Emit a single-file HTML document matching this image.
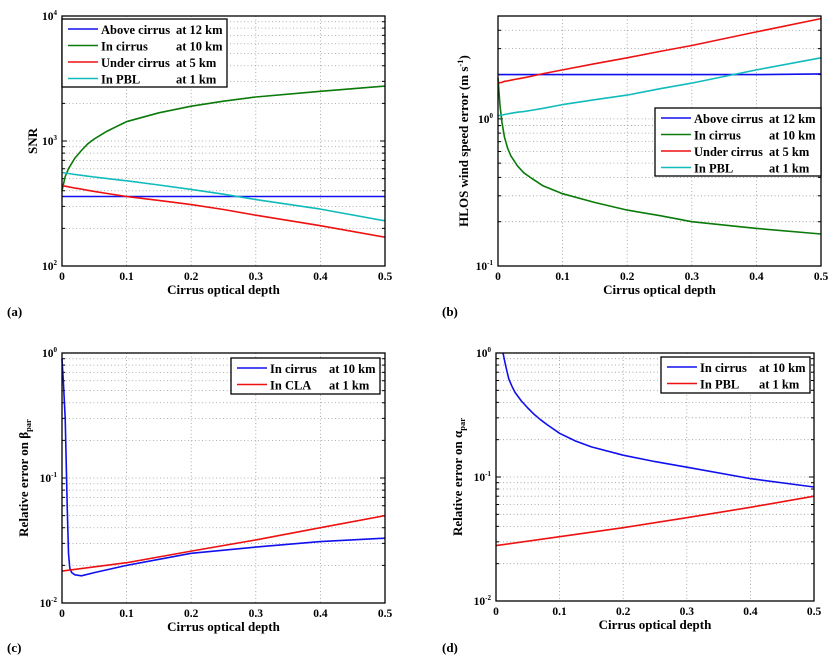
<!DOCTYPE html>
<html><head><meta charset="utf-8"><style>
html,body{margin:0;padding:0;background:#fff;}
svg{display:block;font-family:"Liberation Serif",serif;}
</style></head><body>
<svg id="fig" width="836" height="662" viewBox="0 0 836 662" xmlns="http://www.w3.org/2000/svg"></svg>
<script>
// ---- data ----
const xTicks = [0, 0.1, 0.2, 0.3, 0.4, 0.5];
const xTickLabels = ["0", "0.1", "0.2", "0.3", "0.4", "0.5"];

// Panel a: SNR
const aX = [0, 0.005, 0.01, 0.02, 0.03, 0.04, 0.05, 0.07, 0.1, 0.15, 0.2, 0.25, 0.3, 0.4, 0.5];
const aAbove = [360, 360, 360, 360, 360, 360, 360, 360, 360, 360, 360, 360, 360, 360, 360];
const aInCirrus = [400, 520, 600, 730, 840, 950, 1040, 1200, 1430, 1680, 1900, 2080, 2250, 2500, 2750];
const aUnder = [440, 435, 430, 420, 412, 403, 395, 380, 360, 335, 310, 283, 255, 210, 170];
const aPBL = [560, 555, 550, 540, 532, 523, 515, 500, 480, 445, 410, 375, 340, 285, 230];

// Panel b: HLOS wind speed error
const bX = [0, 0.003, 0.006, 0.01, 0.015, 0.02, 0.03, 0.04, 0.05, 0.07, 0.1, 0.15, 0.2, 0.25, 0.3, 0.4, 0.5];
const bAbove = [2.0, 2.0, 2.0, 2.0, 2.0, 2.0, 2.0, 2.0, 2.0, 2.0, 2.0, 2.0, 2.0, 2.0, 2.0, 2.0, 2.02];
const bInCirrus = [1.9, 1.25, 0.95, 0.75, 0.63, 0.56, 0.48, 0.43, 0.4, 0.35, 0.31, 0.27, 0.24, 0.22, 0.2, 0.18, 0.165];
const bUnder = [1.75, 1.76, 1.77, 1.8, 1.81, 1.83, 1.87, 1.9, 1.94, 2.03, 2.15, 2.37, 2.6, 2.87, 3.15, 3.9, 4.8];
const bPBL = [1.05, 1.055, 1.06, 1.07, 1.08, 1.09, 1.11, 1.12, 1.14, 1.18, 1.25, 1.35, 1.45, 1.6, 1.75, 2.15, 2.6];

// Panel c: relative error on beta_par
const cX = [0, 0.002, 0.005, 0.008, 0.01, 0.012, 0.015, 0.02, 0.03, 0.05, 0.1, 0.2, 0.3, 0.4, 0.5];
const cInCirrus = [0.9, 0.6, 0.3, 0.06, 0.025, 0.019, 0.0175, 0.0168, 0.0165, 0.0175, 0.02, 0.025, 0.028, 0.031, 0.033];
const cXr = [0, 0.1, 0.2, 0.3, 0.4, 0.5];
const cCLA = [0.018, 0.021, 0.026, 0.032, 0.04, 0.05];

// Panel d: relative error on alpha_par
const dX = [0.011, 0.015, 0.02, 0.025, 0.03, 0.04, 0.05, 0.06, 0.07, 0.08, 0.1, 0.125, 0.15, 0.2, 0.25, 0.3, 0.4, 0.5];
const dInCirrus = [1.0, 0.8, 0.62, 0.54, 0.48, 0.41, 0.36, 0.32, 0.29, 0.265, 0.225, 0.195, 0.175, 0.15, 0.133, 0.12, 0.097, 0.083];
const dXr = [0, 0.1, 0.2, 0.3, 0.4, 0.5];
const dPBL = [0.028, 0.033, 0.039, 0.047, 0.057, 0.07];

const NS = "http://www.w3.org/2000/svg";
const svg = document.getElementById('fig');
function el(tag, attrs, parent) {
  const e = document.createElementNS(NS, tag);
  for (const k in attrs) e.setAttribute(k, attrs[k]);
  (parent || svg).appendChild(e);
  return e;
}

function panel(cfg) {
  const g = el('g', {});
  
  
  const {x0, x1, y0, y1, lmin, lmax} = cfg;
  const sx = v => x0 + (v - 0) / 0.5 * (x1 - x0);
  const sy = v => y1 - (Math.log10(v) - lmin) / (lmax - lmin) * (y1 - y0);
  for (let d = Math.floor(lmin); d < Math.ceil(lmax); d++) {
    for (let m = 1; m < 10; m++) {
      const v = m * Math.pow(10, d);
      const lv = Math.log10(v);
      if (lv <= lmin + 1e-9 || lv >= lmax - 1e-9) continue;
      const y = sy(v);
      const gl = el('line', {x1: x0, x2: x1, y1: y, y2: y, stroke: '#999', 'stroke-width': 0.8, 'stroke-dasharray': '1,2.5'}, g);
      
      
      el('line', {x1: x0, x2: x0 + (m === 1 ? 5 : 3), y1: y, y2: y, stroke: '#000', 'stroke-width': 1}, g);
      el('line', {x1: x1, x2: x1 - (m === 1 ? 5 : 3), y1: y, y2: y, stroke: '#000', 'stroke-width': 1}, g);
    }
  }
  xTicks.forEach((t, i) => {
    const x = sx(t);
    if (i > 0 && i < xTicks.length - 1) {
      const gl = el('line', {x1: x, x2: x, y1: y0, y2: y1, stroke: '#999', 'stroke-width': 0.8, 'stroke-dasharray': '1,2.5'}, g);
      
      
    }
    const tl = el('text', {x: x, y: y1 + 14, 'font-size': 11.5, 'font-weight': 'bold', 'text-anchor': 'middle'}, g);
    tl.textContent = xTickLabels[i];
    
    
  });
  for (let d = Math.ceil(lmin); d <= Math.floor(lmax); d++) {
    const t = el('text', {x: x0 - 5, y: sy(Math.pow(10, d)) + 4, 'font-size': 11.5, 'font-weight': 'bold', 'text-anchor': 'end'}, g);
    
    
    t.textContent = '10';
    const sup = el('tspan', {'font-size': 7, dy: -5}, t);
    sup.textContent = String(d);
  }
  cfg.series.forEach(s => {
    const pts = s.x.map((xv, i) => sx(xv).toFixed(1) + ',' + sy(s.y[i]).toFixed(1)).join(' ');
    const p = el('polyline', {points: pts, fill: 'none', stroke: s.color, 'stroke-width': 1.6, 'stroke-linejoin': 'round'}, g);
    
    
  });
  el('rect', {x: x0, y: y0, width: x1 - x0, height: y1 - y0, fill: 'none', stroke: '#000', 'stroke-width': 1.3}, g);
  const xl = el('text', {x: (x0 + x1) / 2, y: y1 + 28, 'font-size': 13, 'font-weight': 'bold', 'text-anchor': 'middle'}, g);
  xl.textContent = 'Cirrus optical depth';
  
  
  const yl = el('text', {x: 0, y: 0, 'font-size': 13, 'font-weight': 'bold', 'text-anchor': 'middle', transform: `translate(${cfg.ylx},${(y0 + y1) / 2}) rotate(-90)`}, g);
  
  
  yl.textContent = cfg.ylabel;
  if (cfg.ysub) { const s = el('tspan', {'font-size': 8.5, dy: 3}, yl); s.textContent = cfg.ysub; }
  if (cfg.ysup) { const s = el('tspan', {'font-size': 8.5, dy: -5}, yl); s.textContent = cfg.ysup; const s2 = el('tspan', {dy: 5}, yl); s2.textContent = ')'; }
  const L = cfg.legend;
  const lg = el('g', {}, g);
  
  
  el('rect', {x: L.x, y: L.y, width: L.w, height: L.h, fill: '#fff', stroke: '#000', 'stroke-width': 1.3}, lg);
  cfg.series.forEach((s, i) => {
    const yy = L.y + 10 + i * 16.5;
    el('line', {x1: L.x + 6, x2: L.x + 36, y1: yy, y2: yy, stroke: s.color, 'stroke-width': 1.6}, lg);
    const t = el('text', {x: L.x + 39, y: yy + 5, 'font-size': 12.5, 'font-weight': 'bold'}, lg);
    
    
    t.textContent = s.label;
    const t2 = el('text', {x: L.x + 39 + L.col, y: yy + 5, 'font-size': 12.5, 'font-weight': 'bold'}, lg);
    t2.textContent = s.at;
  });
  const pl = el('text', {x: cfg.px, y: cfg.py, 'font-size': 13, 'font-weight': 'bold'}, g);
  pl.textContent = cfg.letter;
  
  
}

const BLUE = '#1010ee', GREEN = '#0a7a0a', RED = '#ee1111', CYAN = '#11bbbb';

panel({name: 'panel-a-snr', x0: 62, x1: 385, y0: 16, y1: 266, lmin: 2, lmax: 4, ylx: 37, ylabel: 'SNR',
  series: [
    {id: 'line-above-cirrus', x: aX, y: aAbove, color: BLUE, label: 'Above cirrus', at: 'at 12 km'},
    {id: 'line-in-cirrus', x: aX, y: aInCirrus, color: GREEN, label: 'In cirrus', at: 'at 10 km'},
    {id: 'line-under-cirrus', x: aX, y: aUnder, color: RED, label: 'Under cirrus', at: 'at 5 km'},
    {id: 'line-in-pbl', x: aX, y: aPBL, color: CYAN, label: 'In PBL', at: 'at 1 km'}],
  legend: {x: 62, y: 19, w: 165, h: 68, col: 75}, letter: '(a)', px: 7, py: 316});

panel({name: 'panel-b-hlos', x0: 498, x1: 821, y0: 16, y1: 266, lmin: -1, lmax: Math.log10(5), ylx: 468, ylabel: 'HLOS wind speed error (m s', ysup: '-1',
  series: [
    {id: 'line-above-cirrus', x: bX, y: bAbove, color: BLUE, label: 'Above cirrus', at: 'at 12 km'},
    {id: 'line-in-cirrus', x: bX, y: bInCirrus, color: GREEN, label: 'In cirrus', at: 'at 10 km'},
    {id: 'line-under-cirrus', x: bX, y: bUnder, color: RED, label: 'Under cirrus', at: 'at 5 km'},
    {id: 'line-in-pbl', x: bX, y: bPBL, color: CYAN, label: 'In PBL', at: 'at 1 km'}],
  legend: {x: 655, y: 108, w: 166, h: 68, col: 75}, letter: '(b)', px: 442, py: 316});

panel({name: 'panel-c-beta', x0: 62, x1: 385, y0: 353, y1: 603, lmin: -2, lmax: 0, ylx: 28, ylabel: 'Relative error on β', ysub: 'par',
  series: [
    {id: 'line-in-cirrus', x: cX, y: cInCirrus, color: BLUE, label: 'In cirrus', at: 'at 10 km'},
    {id: 'line-in-cla', x: cXr, y: cCLA, color: RED, label: 'In CLA', at: 'at 1 km'}],
  legend: {x: 231, y: 358, w: 149, h: 36, col: 59}, letter: '(c)', px: 7, py: 652});

panel({name: 'panel-d-alpha', x0: 496, x1: 814, y0: 353, y1: 601, lmin: -2, lmax: 0, ylx: 462, ylabel: 'Relative error on α', ysub: 'par',
  series: [
    {id: 'line-in-cirrus', x: dX, y: dInCirrus, color: BLUE, label: 'In cirrus', at: 'at 10 km'},
    {id: 'line-in-pbl', x: dXr, y: dPBL, color: RED, label: 'In PBL', at: 'at 1 km'}],
  legend: {x: 661, y: 357, w: 149, h: 36, col: 59}, letter: '(d)', px: 442, py: 652});
</script>
</body></html>
